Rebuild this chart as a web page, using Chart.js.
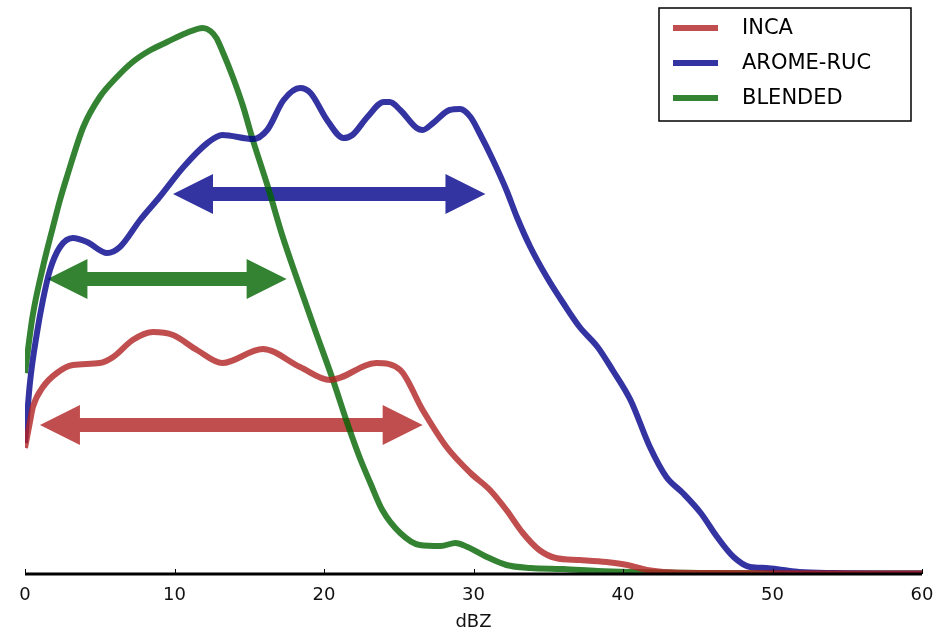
<!DOCTYPE html>
<html>
<head>
<meta charset="utf-8">
<script src="https://cdn.jsdelivr.net/npm/chart.js@4.4.1/dist/chart.umd.min.js"></script>
<style>
  html, body { margin: 0; padding: 0; background: #fff; }
  #wrap { width: 938px; height: 633px; }
</style>
</head>
<body>
<div id="wrap"><canvas id="dbzChart" width="938" height="633"></canvas></div>
<script>
// reflectivity (dBZ) and relative frequency (no y scale in the original)
const incaX = [0, 0.33, 0.53, 1.2, 2.13, 3.2, 5.0, 5.9, 7.2, 8.56, 9.9, 11.5, 13.2, 15.9, 18.4, 20.4, 23.5, 25.1, 26.6, 28.2, 29.8, 31.1, 32.2, 33.3, 34.4, 35.5, 37.1, 38.9, 40.3, 41.6, 42.7, 45.2, 60];
const incaY = [12.6, 15.2, 16.7, 18.7, 20.1, 20.9, 21.1, 21.7, 23.4, 24.2, 23.9, 22.4, 21.1, 22.5, 20.7, 19.4, 21.1, 20.4, 16.4, 12.7, 10.1, 8.4, 6.4, 4.1, 2.4, 1.6, 1.4, 1.2, 0.9, 0.4, 0.2, 0.1, 0.05];

const aromeX = [0, 0.33, 0.8, 1.2, 1.67, 2.34, 3.2, 4.15, 5.5, 6.35, 7.7, 9.0, 10.6, 12.2, 13.2, 15.25, 16.2, 17.3, 18.4, 19.1, 20.2, 21.3, 21.9, 22.9, 24.0, 24.4, 25.1, 26.2, 26.6, 27.3, 28.4, 29.1, 29.8, 30.4, 31.3, 32.2, 32.9, 33.8, 34.9, 36.0, 37.1, 38.3, 39.3, 40.5, 41.8, 42.9, 44.0, 45.2, 46.3, 47.4, 48.5, 49.6, 50.7, 51.8, 54.0, 60];
const aromeY = [13.1, 19.1, 24.1, 27.4, 30.4, 32.7, 33.6, 33.2, 32.1, 32.7, 35.4, 37.7, 40.7, 43.1, 43.9, 43.5, 44.4, 47.4, 48.6, 48.1, 45.4, 43.6, 43.9, 45.7, 47.2, 47.2, 46.4, 44.6, 44.4, 45.1, 46.4, 46.5, 45.7, 44.1, 41.4, 38.4, 35.7, 32.7, 29.7, 27.1, 24.7, 22.7, 20.4, 17.4, 12.7, 9.7, 8.1, 6.1, 3.7, 1.7, 0.7, 0.6, 0.4, 0.2, 0.1, 0.05];

const blendedX = [0, 0.5, 1.2, 1.87, 2.34, 2.8, 3.9, 5.0, 6.15, 7.2, 8.4, 9.5, 10.8, 11.9, 12.4, 12.8, 13.2, 13.9, 14.6, 15.2, 16.25, 17.2, 18.2, 19.4, 20.6, 21.6, 22.4, 23.1, 23.9, 25.1, 26.4, 27.8, 28.8, 29.6, 30.9, 32.2, 33.8, 36.0, 38.3, 40.5, 45.2, 60];
const blendedY = [20.1, 25.7, 30.7, 34.7, 37.4, 39.7, 44.7, 47.7, 49.7, 51.2, 52.4, 53.2, 54.1, 54.6, 54.3, 53.6, 52.3, 49.7, 46.7, 43.6, 38.7, 33.9, 29.5, 24.4, 19.4, 14.9, 11.6, 9.1, 6.4, 4.1, 2.9, 2.8, 3.1, 2.7, 1.7, 0.9, 0.6, 0.5, 0.3, 0.2, 0.1, 0.05];

const seriesLabels = ['INCA', 'AROME-RUC', 'BLENDED'];
const seriesColors = ['rgba(178, 34, 34, 0.8)', 'rgba(0, 0, 139, 0.8)', 'rgba(0, 100, 0, 0.8)'];
const xTicks = [0, 10, 20, 30, 40, 50, 60];

// double-headed range arrows (same order as the series)
const arrowFrom = [1.0, 9.9, 1.5];
const arrowTo = [26.6, 30.8, 17.5];
const arrowLevel = [14.9, 38.0, 29.5];

const toPoints = (xs, ys) => xs.map((x, i) => ({ x: x, y: ys[i] }));

// arrows go under the curves
const arrowPlugin = {
    id: 'rangeArrows',
    beforeDatasetsDraw(chart) {
        const ctx = chart.ctx;
        const xs = chart.scales.x, ys = chart.scales.y;
        const half = 7, headLen = 40, headHalf = 20;
        ctx.save();
        arrowFrom.forEach((from, i) => {
            const x1 = xs.getPixelForValue(from);
            const x2 = xs.getPixelForValue(arrowTo[i]);
            const y = ys.getPixelForValue(arrowLevel[i]);
            ctx.beginPath();
            ctx.moveTo(x1, y);
            ctx.lineTo(x1 + headLen, y - headHalf);
            ctx.lineTo(x1 + headLen, y - half);
            ctx.lineTo(x2 - headLen, y - half);
            ctx.lineTo(x2 - headLen, y - headHalf);
            ctx.lineTo(x2, y);
            ctx.lineTo(x2 - headLen, y + headHalf);
            ctx.lineTo(x2 - headLen, y + half);
            ctx.lineTo(x1 + headLen, y + half);
            ctx.lineTo(x1 + headLen, y + headHalf);
            ctx.closePath();
            ctx.fillStyle = seriesColors[i];
            ctx.fill();
        });
        ctx.restore();
    }
};

// bottom spine with inward ticks, and the boxed legend
const frameLegendPlugin = {
    id: 'frameLegend',
    afterDatasetsDraw(chart) {
        const ctx = chart.ctx;
        const area = chart.chartArea;
        const xs = chart.scales.x;
        ctx.save();
        ctx.strokeStyle = '#000';
        ctx.lineWidth = 3;
        ctx.beginPath();
        ctx.moveTo(area.left, area.bottom);
        ctx.lineTo(area.right, area.bottom);
        ctx.stroke();
        ctx.lineWidth = 1;
        xTicks.forEach(v => {
            const px = Math.round(xs.getPixelForValue(v)) + 0.5;
            ctx.beginPath();
            ctx.moveTo(px, area.bottom);
            ctx.lineTo(px, area.bottom - 5);
            ctx.stroke();
        });

        const boxW = 252, boxH = 113;
        const boxLeft = area.right - 11 - boxW;
        const boxTop = area.top + 8;
        ctx.fillStyle = '#fff';
        ctx.fillRect(boxLeft, boxTop, boxW, boxH);
        ctx.lineWidth = 1.5;
        ctx.strokeStyle = '#000';
        ctx.strokeRect(boxLeft, boxTop, boxW, boxH);
        ctx.font = '21px "DejaVu Sans"';
        ctx.textBaseline = 'middle';
        seriesLabels.forEach((label, i) => {
            const y = boxTop + 20 + i * 35;
            ctx.strokeStyle = seriesColors[i];
            ctx.lineWidth = 6;
            ctx.beginPath();
            ctx.moveTo(boxLeft + 14, y);
            ctx.lineTo(boxLeft + 59, y);
            ctx.stroke();
            ctx.fillStyle = '#000';
            ctx.fillText(label, boxLeft + 83, y + 1);
        });
        ctx.restore();
    }
};

const seriesX = [incaX, aromeX, blendedX];
const seriesY = [incaY, aromeY, blendedY];

new Chart(document.getElementById('dbzChart'), {
    type: 'line',
    data: {
        datasets: seriesLabels.map((label, i) => ({
            label: label,
            data: toPoints(seriesX[i], seriesY[i]),
            borderColor: seriesColors[i],
            borderWidth: 6,
            pointRadius: 0,
            fill: false,
            cubicInterpolationMode: 'monotone'
        }))
    },
    options: {
        responsive: false,
        animation: false,
        devicePixelRatio: 1,
        layout: { padding: { left: 25, right: 16, top: 0, bottom: 0 } },
        plugins: {
            legend: { display: false },
            tooltip: { enabled: false }
        },
        scales: {
            x: {
                type: 'linear',
                min: 0,
                max: 60,
                afterBuildTicks: axis => { axis.ticks = xTicks.map(v => ({ value: v })); },
                afterFit: axis => {
                    // pin the axis box so the plot area matches the original frame
                    axis.height = 59;
                    axis.paddingLeft = 0;
                    axis.paddingRight = 0;
                },
                grid: { display: false, drawTicks: false },
                border: { display: false },
                ticks: {
                    color: '#111',
                    padding: 11,
                    maxRotation: 0,
                    font: { family: 'DejaVu Sans', size: 18 }
                },
                title: {
                    display: true,
                    text: 'dBZ',
                    color: '#111',
                    padding: { top: 0, bottom: 0 },
                    font: { family: 'DejaVu Sans', size: 18 }
                }
            },
            y: {
                display: false,
                min: 0,
                max: 57.4
            }
        }
    },
    plugins: [arrowPlugin, frameLegendPlugin]
});
</script>
</body>
</html>
